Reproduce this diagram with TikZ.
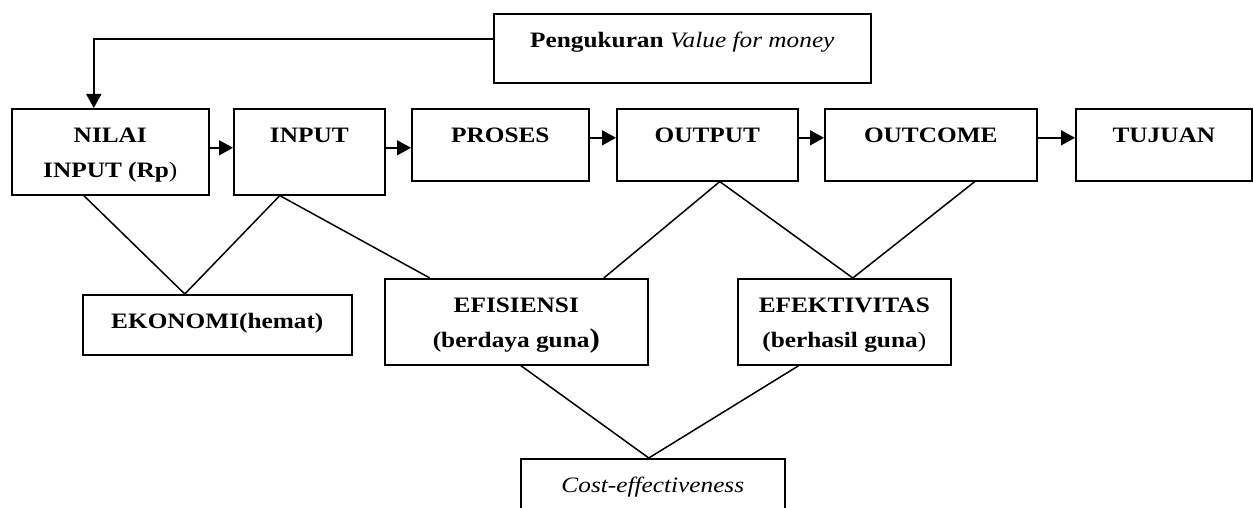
\documentclass[tikz,border=0pt]{standalone}
\usepackage{fontspec}
\setmainfont{Liberation Serif}[FakeStretch=1.15]
\usetikzlibrary{arrows.meta}

\begin{document}
\begin{tikzpicture}[x=1pt,y=-1pt,
        every node/.style={font=\fontsize{22}{35}\selectfont\bfseries},
        box/.style={draw,line width=1.6pt,anchor=north west,inner sep=0pt,align=center,text height=34pt},
        twoline/.style={box,text height=69pt,text depth=17pt},
        flow/.style={line width=1.6pt,-{Triangle[length=14pt,width=15pt]}},
        link/.style={line width=1.5pt}]
        \useasboundingbox (0,0) rectangle (1253,508);
        % top box
        \node[box,minimum width=377pt,text depth=35pt] (val) at (493,13) {Pengukuran {\mdseries\itshape Value for money}};
        % main row
        \node[twoline,minimum width=197pt] (nilai) at (11,108) {NILAI\\INPUT (Rp{\mdseries)}};
        \node[box,minimum width=151pt,text depth=52pt] (input) at (233,108) {INPUT};
        \node[box,minimum width=177pt,text depth=38pt] (proses) at (411,108) {PROSES};
        \node[box,minimum width=181pt,text depth=38pt] (output) at (616,108) {OUTPUT};
        \node[box,minimum width=212pt,text depth=38pt] (outcome) at (824,108) {OUTCOME};
        \node[box,minimum width=176pt,text depth=38pt] (tujuan) at (1075,108) {TUJUAN};
        % measures
        \node[box,minimum width=269pt,text depth=26pt] (ekonomi) at (82,294) {EKONOMI(hemat)};
        \node[twoline,minimum width=263pt] (efisiensi) at (384,278) {EFISIENSI\\(berdaya guna{\fontsize{27}{35}\selectfont)}};
        \node[twoline,minimum width=213pt] (efektivitas) at (737,278) {EFEKTIVITAS\\(berhasil guna{\mdseries)}};
        \node[box,minimum width=264pt,text depth=30pt] (cost) at (520,458) {\mdseries\itshape Cost-effectiveness};
        % arrows
        \draw[flow] ([yshift=9.5pt]val.west) -| ([xshift=-16.5pt]nilai.north);
        \draw[flow] ([yshift=4pt]nilai.east) -- ([yshift=4pt]input.west);
        \draw[flow] ([yshift=4pt]input.east) -- ([yshift=-3pt]proses.west);
        \draw[flow] ([yshift=7pt]proses.east) -- ([yshift=7pt]output.west);
        \draw[flow] ([yshift=7pt]output.east) -- ([yshift=7pt]outcome.west);
        \draw[flow] ([yshift=7pt]outcome.east) -- ([yshift=7pt]tujuan.west);
        % lines
        \draw[link] ([xshift=-26.5pt]nilai.south) -- ([xshift=-32.5pt]ekonomi.north)
                -- ([xshift=-29.5pt]input.south) -- ([xshift=-86.5pt]efisiensi.north);
        \draw[link] ([xshift=87.5pt]efisiensi.north) -- ([xshift=12.5pt]output.south)
                -- ([xshift=8.5pt]efektivitas.north) -- ([xshift=44pt]outcome.south);
        \draw[link] ([xshift=4.5pt]efisiensi.south) -- ([xshift=-4pt]cost.north)
                -- ([xshift=-45.5pt]efektivitas.south);
\end{tikzpicture}
\end{document}
